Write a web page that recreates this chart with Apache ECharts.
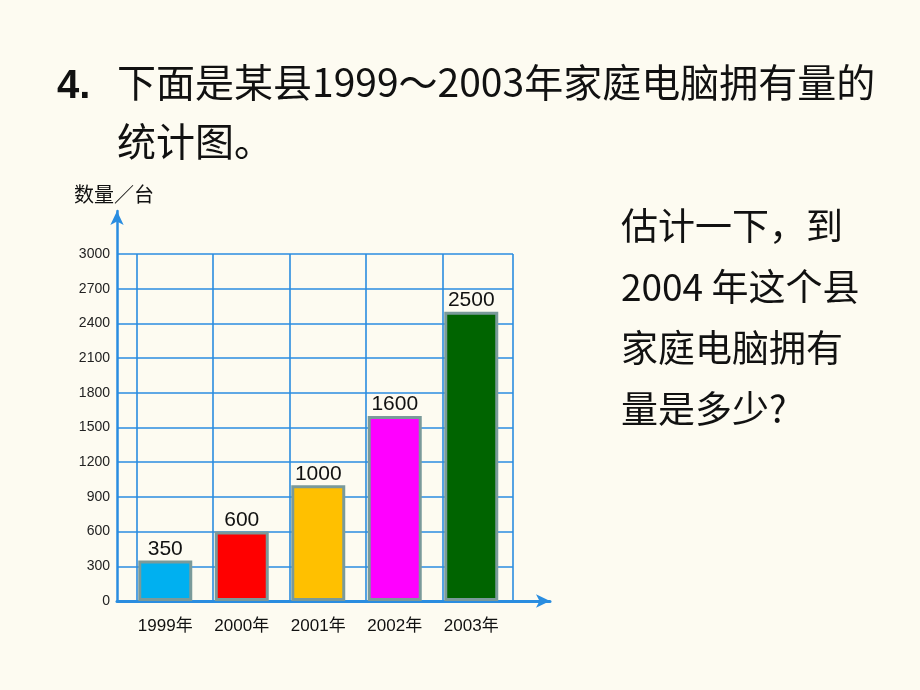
<!DOCTYPE html>
<html>
<head>
<meta charset="utf-8">
<script src="https://cdn.jsdelivr.net/npm/echarts@6/dist/echarts.min.js"></script>
<style>
html,body{margin:0;padding:0;background:#fdfbf1;}
#main{width:920px;height:690px;}
</style>
</head>
<body>
<div id="main"></div>
<script>
const categories = ['1999年', '2000年', '2001年', '2002年', '2003年'];
const values = [350, 600, 1000, 1600, 2500];
const yMin = 0, yMax = 3000, yStep = 300;
const barColors = ['#00b0f0', '#ff0000', '#ffc000', '#ff00ff', '#006400'];

const blue = '#2a8de0';
const cjk = '"Noto Sans CJK SC", "Noto Sans", sans-serif';
const latin = '"Liberation Sans", Arial, sans-serif';
const mixed = '"Liberation Sans", "Noto Sans CJK SC", sans-serif';

const chart = echarts.init(document.getElementById('main'), null, {renderer: 'canvas'});

const hiddenAxis = {axisLabel: {show: false}, axisTick: {show: false}, splitLine: {show: false}, axisLine: {show: false}};
const bigText = {fontSize: 39, fontWeight: 'normal', color: '#111', fontFamily: cjk};
const sideText = {fontSize: 37, fontWeight: 'normal', color: '#111', fontFamily: cjk};

const option = {
  backgroundColor: '#fdfbf1',
  animation: false,
  title: [
    {text: '4.', left: 52, top: 62, textStyle: {fontSize: 40, fontWeight: 'bold', color: '#111', fontFamily: latin}},
    {text: '下面是某县1999～2003年家庭电脑拥有量的', left: 112, top: 58, textStyle: bigText},
    {text: '统计图。', left: 112, top: 117, textStyle: bigText},
    {text: '数量／台', left: 69, top: 179, textStyle: {fontSize: 20, fontWeight: 'normal', color: '#111', fontFamily: cjk}},
    {text: '估计一下，到', left: 616, top: 202, textStyle: sideText},
    {text: '2004 年这个县', left: 616, top: 263, textStyle: sideText},
    {text: '家庭电脑拥有', left: 616, top: 324, textStyle: sideText},
    {text: '量是多少?', left: 616, top: 385, textStyle: sideText}
  ],
  grid: [
    {left: 117, top: 254, width: 396, height: 347, containLabel: false},
    {left: 136.5, top: 254, width: 376.5, height: 347, containLabel: false},
    {left: 127, top: 254, width: 382.5, height: 347, containLabel: false},
    {left: 117, top: 211, width: 433, height: 390, containLabel: false}
  ],
  xAxis: [
    Object.assign({type: 'value', gridIndex: 0, min: 0, max: 1}, hiddenAxis),
    {type: 'value', gridIndex: 1, min: 0, max: 4.92, interval: 1,
      axisLabel: {show: false}, axisTick: {show: false}, axisLine: {show: false},
      splitLine: {show: true, lineStyle: {color: blue, width: 1.6}}},
    {type: 'category', gridIndex: 2, data: categories, boundaryGap: true,
      axisLine: {show: false}, axisTick: {show: false}, splitLine: {show: false},
      axisLabel: {show: true, margin: 17, fontSize: 17, color: '#111', fontFamily: mixed}},
    {type: 'value', gridIndex: 3, min: 0, max: 1,
      axisLabel: {show: false}, axisTick: {show: false}, splitLine: {show: false},
      axisLine: {show: true, symbol: ['none', 'arrow'], symbolSize: [10, 14], lineStyle: {color: blue, width: 3}}}
  ],
  yAxis: [
    {type: 'value', gridIndex: 0, min: yMin, max: yMax, interval: yStep,
      axisLine: {show: false}, axisTick: {show: false},
      axisLabel: {show: true, margin: 7, fontSize: 14, color: '#222', fontFamily: latin,
        formatter: v => String(v)},
      splitLine: {show: true, lineStyle: {color: blue, width: 1.6}}},
    Object.assign({type: 'value', gridIndex: 1, min: yMin, max: yMax}, hiddenAxis),
    Object.assign({type: 'value', gridIndex: 2, min: yMin, max: yMax}, hiddenAxis),
    {type: 'value', gridIndex: 3, min: 0, max: 1,
      axisLabel: {show: false}, axisTick: {show: false}, splitLine: {show: false},
      axisLine: {show: true, symbol: ['none', 'arrow'], symbolSize: [10, 14], lineStyle: {color: blue, width: 2.5}}}
  ],
  series: [
    {
      type: 'bar',
      xAxisIndex: 2,
      yAxisIndex: 2,
      barWidth: 54,
      data: values.map((v, i) => ({
        value: v,
        itemStyle: {color: barColors[i], borderColor: '#7a9a9a', borderWidth: 3}
      })),
      label: {show: true, position: 'top', distance: 1, fontSize: 21, color: '#111', fontFamily: latin}
    }
  ]
};
chart.setOption(option);
</script>
</body>
</html>
